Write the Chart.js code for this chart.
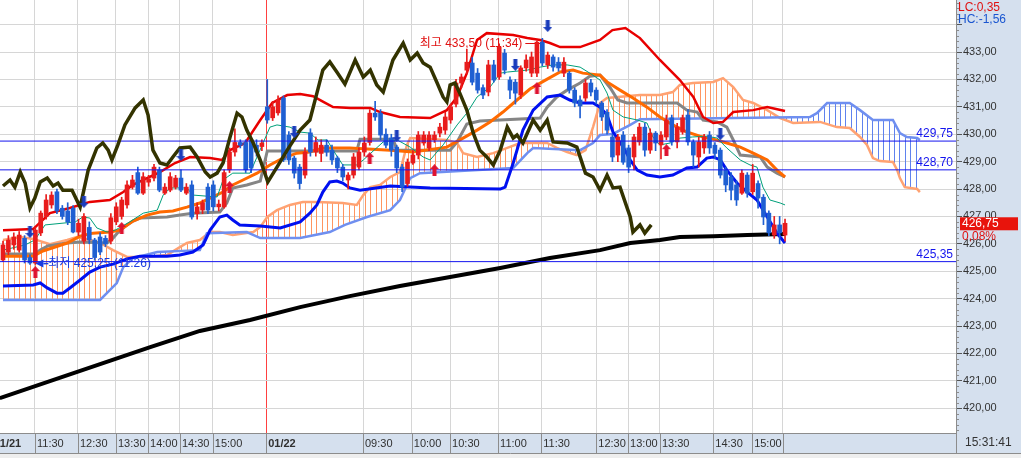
<!DOCTYPE html>
<html>
<head>
<meta charset="utf-8">
<script src="https://cdn.jsdelivr.net/npm/chart.js@4.4.1/dist/chart.umd.min.js"></script>
<style>
html, body { margin: 0; padding: 0; background: #fff; overflow: hidden; }
#wrap { width: 1021px; height: 458px; }
</style>
</head>
<body>
<div id="wrap"><canvas id="chart" width="1021" height="458"></canvas></div>
<script>
// 캔들 (시가 / 고가 / 저가 / 종가)
const candleOpen = [425.41,425.7,425.96,425.77,426.2,425.5,425.3,426.4,427.0,427.42,427.9,427.3,427.2,427.3,426.43,426.1,426.6,426.14,426.25,426.2,
  426.1,426.8,427.0,427.42,428.07,428.6,427.85,428.25,428.4,428.7,427.85,427.96,428.07,428.4,427.85,428.15,427.1,427.23,428.07,428.15,
  427.35,427.35,428.7,429.35,429.7,429.7,429.8,429.6,429.55,431.0,430.6,430.78,431.32,429.97,429.13,428.8,428.51,430.05,429.35,429.3,
  429.6,429.42,429.13,428.8,428.33,428.51,428.8,429.35,429.7,430.77,430.77,430.0,429.86,429.53,428.8,428.2,428.95,429.24,429.68,429.5,
  429.8,430.04,430.15,430.52,431.1,431.87,432.34,432.6,432.23,431.7,431.54,432.53,432.09,432.96,431.98,431.9,431.43,432.42,432.23,432.23,
  433.36,432.53,432.82,432.63,432.23,432.23,431.61,431.25,431.32,431.87,431.61,431.14,430.8,429.9,429.24,429.97,429.5,429.17,429.72,430.26,
  429.42,430.04,429.61,429.9,430.6,429.72,430.08,430.7,429.72,429.17,429.5,429.97,429.6,429.42,428.69,428.44,428.15,427.85,428.51,427.9,
  428.2,427.7,427.12,426.32,426.69,426.32];
const candleHigh = [426.1,426.3,426.4,426.45,426.3,425.6,426.6,427.2,427.8,427.9,428.0,427.4,427.5,427.4,426.9,427.1,426.8,426.2,426.4,426.3,
  427.1,427.5,427.7,428.3,428.5,428.8,428.6,428.5,428.9,428.8,428.2,428.6,428.5,428.7,428.2,428.3,427.5,427.6,428.2,428.3,
  427.6,428.7,429.5,430.2,429.8,429.8,429.9,429.8,429.8,432.0,431.2,431.4,431.4,430.1,429.2,428.9,429.5,430.2,429.9,429.8,
  429.8,429.6,429.2,428.9,428.6,429.3,429.5,429.9,430.9,431.2,430.9,430.2,430.0,429.6,428.9,429.1,429.4,430.1,430.1,430.1,
  430.1,430.4,430.8,431.1,432.0,432.2,433.1,432.8,432.4,431.8,432.7,432.7,433.3,433.1,432.1,432.0,432.5,432.9,433.0,433.4,
  433.5,433.0,432.9,432.8,432.8,432.3,431.7,431.4,432.0,432.0,431.7,431.2,430.9,430.0,430.0,430.1,429.6,430.0,430.4,430.4,
  430.2,430.1,430.1,430.7,430.7,430.4,430.7,430.9,429.8,429.9,430.0,430.1,429.7,429.5,428.8,428.6,428.3,428.7,428.6,428.9,
  428.3,427.8,427.2,427.0,427.0,426.9];
const candleLow = [425.35,425.6,425.8,425.7,425.3,425.25,425.25,426.3,426.9,427.3,427.1,426.9,426.7,426.4,426.3,426.0,426.0,425.4,425.6,425.9,
  426.0,426.7,426.9,427.3,428.0,427.8,427.8,428.1,428.3,427.9,427.8,427.9,428.0,427.9,427.8,426.9,426.9,427.1,427.1,427.2,
  427.2,427.3,428.6,429.2,429.5,428.6,428.6,429.2,429.4,430.4,430.5,430.7,429.0,428.9,428.4,428.0,428.4,429.2,429.2,429.0,
  429.2,428.9,428.6,428.3,428.0,428.4,428.7,429.2,429.6,430.5,429.8,429.5,429.2,428.6,427.9,428.1,428.9,429.1,429.6,429.4,
  429.7,429.9,430.0,430.4,431.0,431.7,432.2,431.8,431.5,431.3,431.4,431.9,432.0,432.2,431.3,431.1,431.3,432.3,432.1,432.1,
  432.5,432.4,432.3,432.3,432.1,431.5,431.0,430.6,431.2,431.4,431.1,430.5,430.0,429.0,429.0,428.9,428.6,428.7,429.6,429.2,
  429.3,429.4,429.1,429.8,429.6,429.5,430.0,429.6,428.8,428.8,429.3,429.3,429.1,428.4,427.9,427.6,427.4,427.8,427.7,427.8,
  427.3,426.7,426.3,426.2,426.0,426.1];
const candleClose = [425.96,426.14,426.25,426.32,425.41,425.3,426.5,427.12,427.6,427.78,427.2,427.0,426.8,426.43,426.75,427.0,426.14,425.5,425.7,426.0,
  426.95,427.35,427.6,428.15,428.33,427.85,428.45,428.37,428.8,427.96,428.07,428.45,428.4,427.96,428.07,426.98,427.35,427.5,427.23,427.35,
  427.45,428.6,429.35,429.7,429.6,428.7,428.77,429.35,429.68,430.52,431.0,431.25,429.06,429.06,428.58,428.2,429.35,429.35,429.7,429.6,
  429.35,429.06,428.77,428.44,428.51,429.17,429.35,429.68,430.77,430.63,429.97,429.6,429.42,428.77,428.07,428.98,429.24,429.97,429.97,429.97,
  429.97,430.26,430.63,431.0,431.87,432.09,432.63,431.9,431.61,431.43,432.53,431.98,433.18,432.34,431.61,431.5,432.42,432.71,432.82,433.36,
  432.6,432.89,432.45,432.42,432.63,431.61,431.14,431.03,431.87,431.54,431.25,430.63,430.15,429.17,429.9,428.98,428.8,429.9,430.26,429.42,
  430.04,429.68,429.97,430.52,429.72,430.26,430.6,429.72,429.24,429.72,429.9,429.5,429.3,428.51,428.15,427.96,427.6,428.58,427.85,428.58,
  427.67,426.98,426.4,426.69,426.4,426.75];

// 지표선 (x = 봉 번호, y = 가격)
const upperBandX = [0,5.6,8.7,12.4,16.1,19.8,22.3,24.1,26.7,29.1,31.9,34.7,38.4,40.6,42.1,44.9,47.7,49.9,52.7,55.1,57.5,59.4,61.2,64.4,68.1,69.9,73.6,79.2,82.3,84.2,86.0,87.9,89.7,94.6,97.2,99.6,101.4,103.3,107.0,110.7,113.0,115.4,118.1,121.8,125.5,128.0,129.8,131.7,133.5,135.4,139.1,141.7,145];
const upperBandY = [426.50,426.54,427.12,427.31,427.53,427.60,427.89,428.15,428.40,428.62,428.95,429.17,429.13,429.06,429.42,429.68,430.52,431.14,431.43,431.47,431.39,431.18,430.99,430.96,430.96,430.81,430.63,430.59,430.88,431.36,432.23,433.44,433.69,433.62,433.51,433.44,433.33,433.18,433.18,433.44,433.80,433.88,433.51,432.71,431.98,431.36,430.63,430.41,430.45,430.81,430.88,430.99,430.85];

const lowerBandX = [0,5.6,6.9,8.2,10.0,11.1,12.4,14.3,16.1,18.0,20.4,23.0,25.4,30.4,32.8,35.2,37.1,38.4,40.2,41.5,42.6,43.9,47.7,51.4,55.1,56.9,58.2,59.3,60.6,61.9,63.0,64.3,66.2,71.8,79.2,92.2,93.1,94.6,96.4,98.3,100.9,103.3,105.1,107.0,109.4,110.7,112.0,113.1,115.0,116.3,117.6,119.4,121.8,124.2,126.8,128.7,130.5,131.7,133.0,134.2,136.1,138.0,139.8,141.7,143.5,145];
const lowerBandY = [424.46,424.50,424.57,424.39,424.20,424.20,424.39,424.68,424.97,425.15,425.26,425.45,425.55,425.55,425.59,425.70,425.96,426.50,426.98,427.05,426.87,426.69,426.65,426.58,426.80,427.12,427.42,427.89,428.26,428.29,428.22,428.04,427.96,428.11,428.04,428.00,428.07,428.95,430.15,430.88,431.36,431.43,431.25,431.14,431.14,430.99,430.70,430.08,429.53,429.06,428.69,428.51,428.44,428.51,428.77,428.80,429.13,429.17,429.06,428.69,428.22,427.89,427.60,426.98,426.39,426.03];

const midLineX = [0,5.6,7.4,11.9,14.3,16.7,19.8,21.7,24.1,26.7,29.1,31.5,34.1,36.5,38.4,40.8,42.6,44.5,47.1,49.5,51.9,54.5,56.9,59.3,64.3,71.8,76.0,82.3,85.3,87.9,90.3,92.7,95.3,97.7,100.9,103.3,105.7,107.5,110.7,112.0,114.4,116.8,119.4,121.8,124.2,126.8,129.2,131.7,134.2,136.7,139.1,141.7,143.5,145];
const midLineY = [425.55,425.55,425.74,426.03,426.28,426.39,426.43,426.50,426.83,427.05,427.16,427.20,427.34,427.49,427.67,427.89,428.15,428.33,428.58,428.88,429.13,429.31,429.35,429.50,429.50,429.42,429.35,429.53,429.86,430.15,430.45,430.81,431.25,431.65,432.01,432.27,432.34,432.23,432.16,431.91,431.61,431.32,430.99,430.63,430.34,430.08,429.93,429.82,429.68,429.53,429.31,429.06,428.69,428.44];

const baseLineX = [0,5.9,6.9,8.3,11.9,14.3,19.3,20.4,21.7,23.0,24.1,25.4,30.4,32.8,35.2,40.2,41.5,42.6,45.2,47.7,49.0,65.6,66.2,72.3,73.1,82.9,84.2,86.0,88.4,99.6,100.9,102.7,104.6,107.0,108.8,110.7,112.6,114.0,115.7,125.0,126.8,128.7,129.8,132.4,134.2,135.4,136.7,140.4,141.7,143.5,145];
const baseLineY = [425.63,425.63,425.77,425.92,426.03,426.07,426.03,426.21,426.50,426.69,426.83,426.94,426.98,427.05,427.12,427.16,427.49,428.04,428.15,428.29,429.39,429.39,429.82,429.82,429.42,429.42,429.72,430.37,430.48,430.59,430.99,431.36,431.61,431.87,432.12,432.16,431.69,431.25,431.14,431.14,430.88,430.81,430.52,430.45,430.26,429.79,429.24,429.17,428.80,428.58,428.44];

const turnLineX = [0,4.1,5.9,7.8,13.4,14.8,16.1,17.4,19.3,20.8,23.5,26.0,28.6,29.7,31.0,34.1,35.2,39.7,40.8,42.6,45.8,49.5,50.8,53.2,55.1,56.9,58.4,60.1,61.2,63.0,65.6,66.8,70.5,73.1,75.5,77.9,79.2,81.6,84.2,86.0,87.9,90.3,92.2,93.5,97.2,99.6,102.0,104.6,107.0,108.8,110.7,112.0,113.1,115.0,117.6,119.4,120.5,121.8,123.7,125.5,127.9,130.5,132.4,134.2,136.7,138.5,139.8,140.9,142.2,144.1,145];
const turnLineY = [425.77,425.96,426.14,426.69,426.80,426.98,426.94,426.58,426.43,426.50,426.80,427.12,427.23,427.78,428.04,428.04,427.78,427.71,428.33,428.58,428.58,430.26,430.34,430.26,430.08,430.04,429.79,429.79,429.42,428.88,428.88,429.06,429.72,429.79,429.53,429.17,429.06,429.61,430.34,430.77,431.36,431.72,432.23,432.27,432.34,432.45,432.53,432.53,432.45,432.23,431.98,431.50,430.88,430.63,430.52,430.41,429.90,429.61,429.68,429.86,429.90,429.93,429.86,429.50,429.06,428.88,428.80,428.07,427.60,427.49,427.42];

const laggingX = [0,1.3,2.2,3.2,4.1,5.0,5.9,6.9,8.2,9.3,10.2,11.1,12.8,14.3,15.8,17.4,18.5,19.5,20.2,21.3,22.6,24.5,26.0,26.9,27.8,29.1,30.4,31.5,32.8,34.7,36.0,37.5,38.4,39.7,40.8,42.1,43.4,44.3,45.2,46.4,47.7,49.1,50.8,52.7,55.1,56.9,58.2,59.3,60.6,61.9,63.4,65.3,66.8,68.1,69.3,70.5,72.3,74.2,75.5,76.8,77.9,79.2,80.5,81.6,82.3,82.9,83.8,84.7,86.0,87.2,88.4,89.7,90.9,92.2,93.5,94.6,95.3,96.4,98.3,99.6,100.9,102.0,104.6,106.4,108.0,109.4,110.7,112.0,113.1,114.4,116.3,116.8,118.1,119.0,120.2];
const laggingY = [428.11,428.33,428.07,428.62,428.22,427.31,427.67,428.26,428.40,428.11,428.22,427.96,427.96,427.34,428.69,429.50,429.68,429.42,429.06,429.61,430.34,430.96,431.25,430.70,429.42,428.95,428.88,429.17,429.50,429.53,429.17,428.62,428.44,428.58,428.95,429.90,430.77,430.63,430.15,429.68,429.06,428.26,428.80,429.42,430.15,430.52,431.50,432.34,432.64,432.27,431.83,432.71,432.09,432.34,431.80,431.54,432.71,433.33,432.71,432.96,432.60,432.45,431.87,431.36,431.18,431.80,431.87,431.50,430.88,430.04,429.42,429.17,428.88,429.42,430.26,429.86,429.97,429.68,430.52,430.15,430.52,429.72,429.68,429.53,428.58,428.44,427.96,428.51,428.04,428.07,426.98,426.43,426.69,426.39,426.69];

const leadAX = [0,3.2,5.6,8.7,11.9,13.7,16.1,18.0,20.4,23.0,26.7,30.4,32.8,34.1,36.5,38.4,40.2,42.6,46.4,47.7,49.0,50.8,53.2,55.6,58.2,63.0,65.6,66.8,68.1,69.9,71.8,73.6,74.9,75.5,82.3,84.2,85.3,87.9,90.9,93.5,95.9,100.9,102.7,104.6,106.4,108.0,109.4,110.7,112.0,118.1,121.8,124.2,125.5,127.9,131.7,133.5,135.4,137.2,139.1,141.7,144.1,146.5,151.5,154.6,157.0,158.9,160.2,161.3,162.6,165.0,165.8,166.3,167.2,169.5,170.0];
const leadAY = [426.14,426.25,426.18,425.99,426.14,426.25,426.14,426.03,425.77,425.52,425.52,425.59,425.88,426.03,426.14,426.43,426.43,426.32,426.43,426.61,426.98,427.23,427.42,427.53,427.53,427.49,427.42,427.78,428.07,428.15,428.44,428.62,429.61,429.86,429.79,429.68,429.31,429.17,429.31,429.50,429.68,429.68,429.50,429.35,429.24,429.42,430.26,431.14,431.32,431.43,431.43,431.54,431.80,431.87,431.91,432.05,431.72,431.25,431.14,430.88,430.59,430.41,430.45,430.26,430.23,429.90,429.61,429.13,429.02,428.99,428.69,428.40,428.07,428.00,427.89];

const leadBX = [0,18.0,19.8,21.1,22.3,24.1,28.6,36.5,37.8,45.2,47.7,55.1,60.6,63.4,67.5,71.8,73.6,75.5,77.3,94.6,97.2,98.3,107.0,109.4,110.7,113.1,116.3,118.1,149.6,150.9,152.8,157.0,158.9,161.3,165.0,166.3,167.6,169.5,170.0];
const leadBY = [423.95,423.95,424.31,424.57,425.15,425.48,425.70,425.77,426.39,426.43,426.21,426.21,426.43,426.69,426.98,427.23,427.60,428.40,428.58,428.77,429.31,429.50,429.42,429.68,429.97,430.01,430.34,430.55,430.63,430.77,431.14,431.14,430.88,430.52,430.52,430.04,429.90,429.86,429.79];

const longMaX = [-0.6,8.7,18.0,27.3,36.5,45.8,55.1,64.3,73.6,82.9,92.2,101.4,110.7,116.3,121.8,125.5,131.7,138.0,145];
const longMaY = [420.37,420.99,421.61,422.23,422.82,423.22,423.69,424.09,424.46,424.79,425.12,425.48,425.77,426.03,426.14,426.25,426.28,426.32,426.36];

// 신호 화살표
const buyX = [6, 22, 42, 68, 80, 99, 123];
const buyY = [424.97, 426.58, 428.07, 429.13, 428.69, 431.69, 429.42];
const sellX = [5, 15, 33, 54, 73, 95, 101, 133];
const sellY = [426.43, 427.53, 429.24, 430.08, 429.93, 432.53, 433.95, 430.0];

// 수평선
const levelPrices = [429.75, 428.70, 425.35];
const levelLabels = ['429,75', '428,70', '425,35'];

// 시간축
const tickPos = [-2.1, 5.93, 13.9, 20.95, 26.9, 32.8, 38.9, 48.8, 66.75, 75.8, 82.9, 91.8, 99.8, 110.0, 115.9, 121.8, 131.7, 138.9, 144.6];
const tickLabels = ['01/21','11:30','12:30','13:30','14:00','14:30','15:00','01/22','09:30','10:00','10:30','11:00','11:30','12:30','13:00','13:30','14:30','15:00',''];

const highIdx = 100, highPrice = 433.50, highText = '최고 433,50 (11:34)';
const lowIdx = 6, lowPrice = 425.25, lowText = '최저 425,25 (11:26)';
const lastPrice = 426.75, lastText = '426,75', changeText = '0,08%';
const lcText = 'LC:0,35', hcText = 'HC:-1,56', clockText = '15:31:41';

const UP = '#e81c1c', DOWN = '#1f5fd2', PANEL = '#d5e0ee', EDGE = '#8c8c8c';
const FONT = '"Liberation Sans", "Noto Sans CJK KR", sans-serif';

function pts(xs, ys) { return xs.map((x, i) => ({ x: x, y: ys[i] })); }

function hatch(color) {
    const c = document.createElement('canvas');
    c.width = 27; c.height = 2;
    const g = c.getContext('2d');
    g.fillStyle = color;
    [0, 5, 11, 16, 22].forEach(x => g.fillRect(x, 0, 1, 2));
    const p = g.createPattern(c, 'repeat');
    p.setTransform(new DOMMatrix().translate(3, 0));
    return p;
}

function arrow(color, up) {
    const c = document.createElement('canvas');
    c.width = 9; c.height = 12;
    const g = c.getContext('2d');
    g.fillStyle = color;
    g.beginPath();
    if (up) {
        g.moveTo(4.5, 0); g.lineTo(9, 5); g.lineTo(6.5, 5); g.lineTo(6.5, 12);
        g.lineTo(2.5, 12); g.lineTo(2.5, 5); g.lineTo(0, 5);
    } else {
        g.moveTo(4.5, 12); g.lineTo(9, 7); g.lineTo(6.5, 7); g.lineTo(6.5, 0);
        g.lineTo(2.5, 0); g.lineTo(2.5, 7); g.lineTo(0, 7);
    }
    g.closePath();
    g.fill();
    return c;
}

const candleIdx = candleOpen.map((_, i) => i);
const candleColor = candleOpen.map((o, i) => candleClose[i] >= o ? UP : DOWN);

function line(label, xs, ys, color, width, order) {
    return { type: 'line', label: label, data: pts(xs, ys), borderColor: color, borderWidth: width,
        pointRadius: 0, fill: false, tension: 0, order: order };
}

const datasets = [
    Object.assign(line('선행A', leadAX, leadAY, '#ffa272', 2.5, 30),
        { fill: { target: 1, above: hatch('#ff9560'), below: hatch('#5f82ee') } }),
    line('선행B', leadBX, leadBY, '#6f8ff0', 2.5, 29),
    line('장기이평', longMaX, longMaY, '#000000', 4, 20),
    line('기준선', baseLineX, baseLineY, '#858585', 3, 19),
    line('중심선', midLineX, midLineY, '#ff6a00', 3, 18),
    line('전환선', turnLineX, turnLineY, '#00a07a', 1, 17),
    line('하단', lowerBandX, lowerBandY, '#0010f0', 3, 16),
    line('상단', upperBandX, upperBandY, '#e80000', 2.5, 15),
    { type: 'bar', label: '꼬리', data: candleIdx.map(i => ({ x: i, y: [candleLow[i], candleHigh[i]] })),
      backgroundColor: candleColor, barThickness: 1, grouped: false, order: 8 },
    { type: 'bar', label: '몸통', data: candleIdx.map(i => ({ x: i, y: [candleOpen[i], candleClose[i]] })),
      backgroundColor: candleColor, barThickness: 4, minBarLength: 1, grouped: false, order: 7 }
];
levelPrices.forEach((v, k) => {
    datasets.push(line('수평' + k, [-1, 178], [v, v], '#1414ee', 1, 6));
});
datasets.push(line('후행스팬', laggingX, laggingY, '#333300', 3.5, 5));
datasets.push({ type: 'line', label: '매수', data: pts(buyX, buyY), showLine: false,
    pointStyle: arrow('#de1230', true), pointRadius: 5, order: 1 });
datasets.push({ type: 'line', label: '매도', data: pts(sellX, sellY), showLine: false,
    pointStyle: arrow('#1a3cbc', false), pointRadius: 5, order: 1 });

const extras = {
    id: 'extras',
    beforeDraw(chart) {
        const { ctx, chartArea: a, width, height } = chart;
        ctx.save();
        ctx.fillStyle = '#ffffff';
        ctx.fillRect(0, 0, width, height);
        ctx.fillStyle = PANEL;
        ctx.fillRect(a.right, 0, width - a.right, a.bottom);
        ctx.fillRect(0, a.bottom, width, 20);
        ctx.fillStyle = '#eeeeee';
        ctx.fillRect(0, a.bottom + 20, width, height - a.bottom - 20);
        ctx.restore();
    },
    beforeDatasetsDraw(chart) {
        const { ctx, scales: { x, y } } = chart;
        const px = x.getPixelForValue(highIdx), py = Math.round(y.getPixelForValue(highPrice)) + 5.5;
        ctx.save();
        ctx.font = '12px ' + FONT;
        ctx.fillStyle = '#e01010';
        ctx.textAlign = 'right';
        ctx.textBaseline = 'middle';
        ctx.fillText(highText, px - 20, py);
        ctx.strokeStyle = '#e01010';
        ctx.lineWidth = 1;
        ctx.beginPath();
        ctx.moveTo(px - 17, py); ctx.lineTo(px - 2, py);
        ctx.stroke();
        ctx.restore();
    },
    afterDatasetsDraw(chart) {
        const { ctx, chartArea: a, scales: { x, y } } = chart;
        ctx.save();
        ctx.font = '12px ' + FONT;
        // 수평선 가격
        ctx.fillStyle = '#1414ee';
        ctx.textAlign = 'right';
        ctx.textBaseline = 'alphabetic';
        levelPrices.forEach((v, k) => {
            ctx.fillText(levelLabels[k], a.right - 3, y.getPixelForValue(v) - 4);
        });
        // 최저
        const lx = x.getPixelForValue(lowIdx), ly = y.getPixelForValue(lowPrice) - 1;
        ctx.fillStyle = '#1a3ce0';
        ctx.beginPath();
        ctx.moveTo(lx, ly); ctx.lineTo(lx + 8, ly - 4); ctx.lineTo(lx + 8, ly + 4);
        ctx.closePath(); ctx.fill();
        ctx.fillRect(lx + 8, ly - 0.5, 5, 1.5);
        ctx.textAlign = 'left';
        ctx.textBaseline = 'middle';
        ctx.fillText(lowText, lx + 13, ly);
        ctx.restore();
    },
    afterDraw(chart) {
        const { ctx, chartArea: a, scales: { x, y }, width } = chart;
        ctx.save();
        ctx.strokeStyle = EDGE;
        ctx.lineWidth = 1;
        ctx.beginPath();
        x.ticks.forEach(t => {
            const px = Math.round(x.getPixelForValue(t.value)) + 0.5;
            if (px > 0 && px < a.right) { ctx.moveTo(px, a.bottom); ctx.lineTo(px, a.bottom + 20); }
        });
        ctx.moveTo(a.right + 0.5, a.bottom); ctx.lineTo(a.right + 0.5, a.bottom + 20);
        ctx.moveTo(0, a.bottom + 20.5); ctx.lineTo(width, a.bottom + 20.5);
        // 보조 눈금
        for (let k = 1; k < 80; k++) {
            if (k % 5 === 0) continue;
            const py = Math.round(y.getPixelForValue(419 + k * 0.2)) + 0.5;
            if (py < 2 || py > a.bottom - 2) continue;
            ctx.moveTo(a.right, py); ctx.lineTo(a.right + 3, py);
        }
        ctx.stroke();

        ctx.font = '12px ' + FONT;
        ctx.textAlign = 'left';
        ctx.textBaseline = 'top';
        ctx.fillStyle = '#e01010';
        ctx.fillText(lcText, a.right + 2, 2);
        ctx.fillStyle = '#1a56d0';
        ctx.fillText(hcText, a.right + 2, 14);

        const ty = y.getPixelForValue(lastPrice);
        ctx.fillStyle = '#e8140c';
        ctx.fillRect(a.right + 4, ty - 6, 58, 13);
        ctx.fillStyle = '#ffffff';
        ctx.textBaseline = 'middle';
        ctx.fillText(lastText, a.right + 6, ty + 0.5);
        ctx.fillStyle = '#e01010';
        ctx.fillText(changeText, a.right + 6, ty + 13);

        ctx.fillStyle = '#333333';
        ctx.fillText(clockText, a.right + 9, a.bottom + 10);
        ctx.restore();
    }
};

new Chart(document.getElementById('chart'), {
    type: 'line',
    data: { datasets: datasets },
    options: {
        responsive: false,
        animation: false,
        events: [],
        layout: { padding: 0, autoPadding: false },
        plugins: { legend: { display: false }, tooltip: { enabled: false } },
        scales: {
            x: {
                type: 'linear',
                min: -0.556,
                max: 176.7,
                offset: false,
                afterBuildTicks: s => { s.ticks = tickPos.map(v => ({ value: v })); },
                afterFit: s => { s.height = 25; s.paddingLeft = 0; s.paddingRight = 0; },
                ticks: {
                    autoSkip: false,
                    maxRotation: 0,
                    align: 'start',
                    labelOffset: 2,
                    padding: 4,
                    color: '#303030',
                    font: c => ({ family: FONT, size: 11,
                        weight: (tickLabels[c.index] || '').indexOf('/') > 0 ? 'bold' : 'normal' }),
                    callback: (v, i) => tickLabels[i]
                },
                grid: {
                    offset: false,
                    drawTicks: false,
                    color: c => tickLabels[c.index] === '01/22' ? '#ff4040' : '#d6d6d6'
                },
                border: { color: EDGE }
            },
            y: {
                type: 'linear',
                position: 'right',
                min: 419.095,
                max: 434.9,
                beginAtZero: false,
                afterFit: s => { s.width = 65; s.paddingTop = 0; s.paddingBottom = 0; },
                ticks: {
                    stepSize: 1,
                    includeBounds: false,
                    padding: 1,
                    color: '#333333',
                    font: { family: FONT, size: 11 },
                    callback: v => v > 433.5 ? '' : v.toFixed(2).replace('.', ',')
                },
                grid: { color: '#d6d6d6', tickColor: '#555555', tickLength: 6 },
                border: { color: EDGE }
            }
        }
    },
    plugins: [extras]
});
</script>
</body>
</html>
